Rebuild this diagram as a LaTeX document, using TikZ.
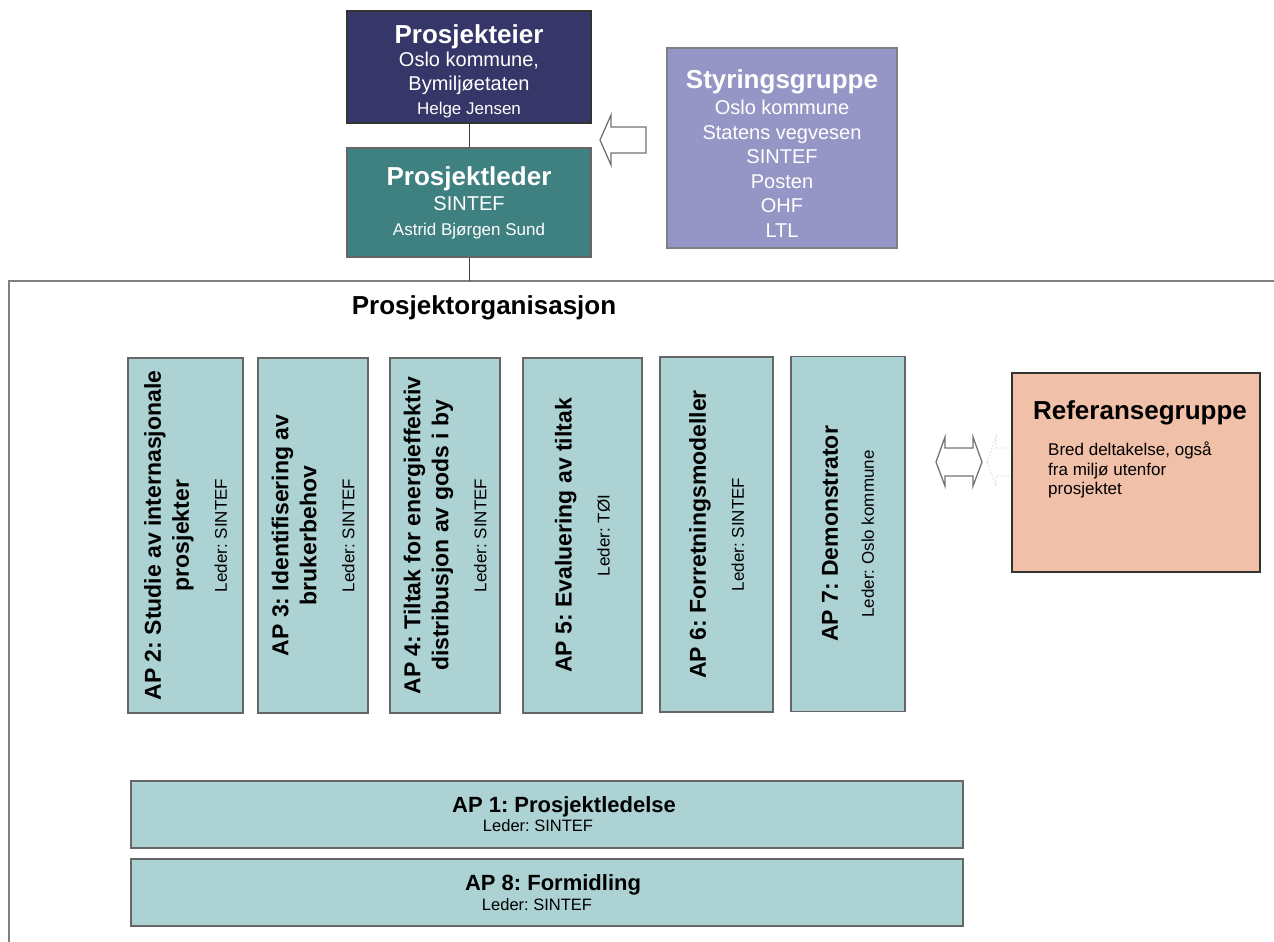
\documentclass[tikz,border=0pt]{standalone}
\usepackage{fontspec}
\setmainfont{Liberation Sans}
\frenchspacing
\usetikzlibrary{positioning}
\definecolor{eierblue}{RGB}{54,54,104}
\definecolor{ledergreen}{RGB}{63,128,128}
\definecolor{styrlilac}{RGB}{150,150,198}
\definecolor{apcyan}{RGB}{173,210,212}
\definecolor{refpeach}{RGB}{240,192,168}
\definecolor{framegray}{RGB}{128,128,128}
\newcommand{\ledline}[1]{{\mdseries\fontsize{17}{20}\selectfont Leder: #1}}

\begin{document}
\begin{tikzpicture}[x=1pt,y=-1pt,
    topbox/.style={draw=black!80, line width=1.2pt, inner sep=0pt, align=center, text=white},
    apbox/.style={draw=black!60, fill=apcyan, line width=1.3pt, inner sep=0pt, align=center,
        font=\fontsize{23}{28}\bfseries\selectfont},
    aptitle/.style={inner sep=0pt, font=\fontsize{22}{26}\bfseries\selectfont},
    aplead/.style={inner sep=0pt, font=\fontsize{16.5}{20}\selectfont},
    conn/.style={draw=black!75, line width=1pt},
    blockarrow/.style={draw=black!55, line width=1.3pt, fill=white, line join=miter}]
    \useasboundingbox (0,0) rectangle (1274,942);
    % project organisation frame
    \draw[framegray, line width=2pt] (9,942) -- (9,281) -- (1274,281);
    \coordinate (orgtop) at (469,281);
    \node[inner sep=0pt, font=\fontsize{26}{30}\bfseries\selectfont] (orgtitle) at (484,308) {Prosjektorganisasjon};

    % owner, leader and steering group
    \node[topbox, fill=eierblue, minimum width=244pt, minimum height=112pt, font=\fontsize{20}{23.5}\selectfont]
        (eier) at (469,67) {\rule{0pt}{28pt}{\fontsize{26}{26}\bfseries\selectfont Prosjekteier}\\[-1pt] Oslo kommune,\\[1pt] Bymiljøetaten\\ {\fontsize{17}{20}\selectfont Helge Jensen}};
    \node[topbox, draw=black!60, fill=ledergreen, minimum width=244pt, minimum height=109pt, font=\fontsize{20}{25}\selectfont]
        (leder) at (469,202.5) {{\fontsize{26}{26}\bfseries\selectfont Prosjektleder}\\ SINTEF\\ {\fontsize{17}{20}\selectfont Astrid Bjørgen Sund}};
    \node[topbox, draw=black!50, fill=styrlilac, minimum width=230pt, minimum height=200pt, font=\fontsize{20}{24.5}\selectfont]
        (styr) at (782,148) {\rule{0pt}{29pt}{\fontsize{26}{26}\bfseries\selectfont Styringsgruppe}\\[2pt] Oslo kommune\\ Statens vegvesen\\ SINTEF\\ Posten\\ OHF\\ LTL};
    \draw[conn] (eier) -- (leder);
    \draw[conn] (leder) -- (orgtop);
    \draw[blockarrow] (600,140) -- (611,115) -- (611,127) -- (646,127) -- (646,153) -- (611,153) -- (611,165) -- cycle;

    % work packages
    \foreach \nm/\x/\y/\w/\txt in {
        ap2/185.5/535.5/115/{AP 2: Studie av internasjonale\\ prosjekter\\[10pt] \ledline{SINTEF}},
        ap3/313/535.5/110/{AP 3: Identifisering av\\ brukerbehov\\[10pt] \ledline{SINTEF}},
        ap4/445/535.5/110/{AP 4: Tiltak for energieffektiv\\ distribusjon av gods i by\\[10pt] \ledline{SINTEF}},
        ap5/582.5/535.5/119/{AP 5: Evaluering av tiltak\\[10pt] \ledline{TØI}},
        ap6/716.5/534.5/113/{AP 6: Forretningsmodeller\\[10pt] \ledline{SINTEF}},
        ap7/848/534/114/{AP 7: Demonstrator\\[8pt] \ledline{Oslo kommune}}} {
        \node[apbox, rotate=90, minimum width=355pt, minimum height=\w pt] (\nm) at (\x,\y) {\txt};
    }
    \node[apbox, minimum width=832pt, minimum height=67pt] (ap1) at (547,814.5) {};
    \node[aptitle] (ap1t) at (564,807) {AP 1: Prosjektledelse};
    \node[aplead] (ap1l) at (538,826) {Leder: SINTEF};
    \node[apbox, minimum width=832pt, minimum height=67pt] (ap8) at (547,892.5) {};
    \node[aptitle] (ap8t) at (553,885) {AP 8: Formidling};
    \node[aplead] (ap8l) at (537,905) {Leder: SINTEF};

    % reference group
    \draw[blockarrow, draw=black!12, dotted] (987,462) -- (996,437) -- (996,448) -- (1024,448) -- (1024,476) -- (996,476) -- (996,486) -- cycle;
    \draw[blockarrow] (936,462) -- (945,437) -- (945,448) -- (973,448) -- (973,437) -- (982,462) -- (973,486) -- (973,476) -- (945,476) -- (945,486) -- cycle;
    \node[draw=black!80, line width=1.2pt, fill=refpeach, minimum width=248pt, minimum height=199pt] (ref) at (1136,472.5) {};
    \node[inner sep=0pt, font=\fontsize{26}{30}\bfseries\selectfont] (reft) at (1140,413) {Referansegruppe};
    \node[inner sep=0pt, anchor=north west, align=left, font=\fontsize{17}{19.5}\selectfont]
        (refb) at (1048,442) {Bred deltakelse, også\\ fra miljø utenfor\\ prosjektet};
\end{tikzpicture}
\end{document}
